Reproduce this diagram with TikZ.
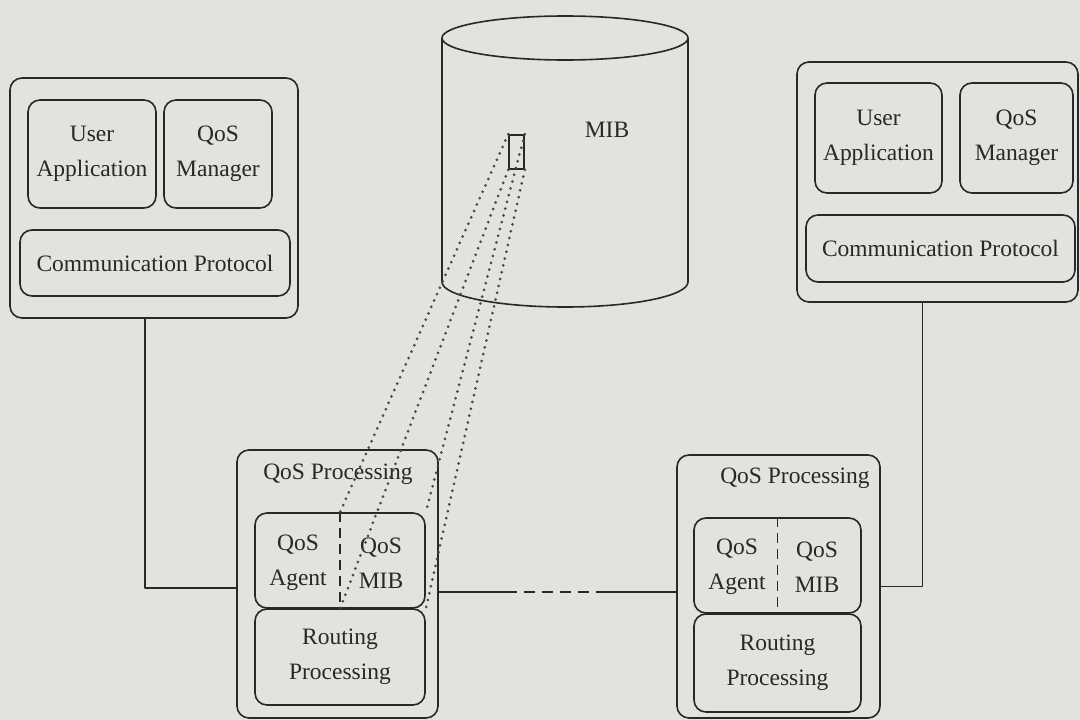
\documentclass[tikz,border=0pt]{standalone}
\usepackage{fontspec}
\setmainfont{Liberation Serif}
\usetikzlibrary{calc}
\definecolor{paper}{RGB}{226,226,223}
\definecolor{ink}{RGB}{40,40,40}

\begin{document}
\begin{tikzpicture}[
    x=1pt,
    y=-1pt,
    line join=round,
    every node/.style={font=\fontsize{23.5}{35}\selectfont, text=ink, align=center},
    caja/.style={draw=ink, line width=1.6pt, rounded corners=12pt, inner sep=0pt},
    enlace/.style={draw=ink, line width=1.6pt},
    punteada/.style={draw=ink!85, line width=3pt, line cap=round, dash pattern=on 0pt off 7pt},
    division/.style={draw=ink, line width=1.6pt, dash pattern=on 10pt off 6pt}
]

\fill[paper] (0,0) rectangle (1080,720);
\useasboundingbox (0,0) rectangle (1080,720);

% hosts
\node[caja, minimum width=288, minimum height=240] (hostI) at (154,198) {};
\node[caja, minimum width=128, minimum height=108] (usuarioI) at (92,154) {User\\Application};
\node[caja, minimum width=108, minimum height=108] (gestorI) at (218,154) {QoS\\Manager};
\node[caja, minimum width=270, minimum height=66] (protI) at (155,263) {Communication Protocol};

\node[caja, minimum width=281, minimum height=240] (hostD) at (937.5,182) {};
\node[caja, minimum width=127, minimum height=110] (usuarioD) at (878.5,138) {User\\Application};
\node[caja, minimum width=113, minimum height=110] (gestorD) at (1016.5,138) {QoS\\Manager};
\node[caja, minimum width=269, minimum height=67] (protD) at (940.5,248.5) {Communication Protocol};

% MIB
\draw[enlace] (565,38) ellipse [x radius=123, y radius=22];
\draw[enlace] (442,38) -- (442,282)
    arc[start angle=180, end angle=0, x radius=123, y radius=25] -- (688,38);
\node (mib) at (607,130) {MIB};
\node[caja, rounded corners=0pt, minimum width=15, minimum height=34] (celda) at (516.5,152) {};

% routers
\node[caja, minimum width=201, minimum height=268] (routI) at (337.5,584) {};
\node (procI) at (338,474) {QoS Processing};
\node[caja, minimum width=170, minimum height=95] (agenteI) at (340,560.5) {};
\draw[division] (agenteI.north) -- (agenteI.south);
\node at (298,563) {QoS\\Agent};
\node at (381,563) {QoS\\MIB};
\node[caja, minimum width=170, minimum height=96] (rutaI) at (340,657) {Routing\\Processing};

\node[caja, minimum width=203, minimum height=263] (routD) at (778.5,586.5) {};
\node (procD) at (795,478) {QoS Processing};
\node[caja, minimum width=167, minimum height=95] (agenteD) at (777.5,565.5) {};
\draw[division] (agenteD.north) -- (agenteD.south);
\node at (737,567) {QoS\\Agent};
\node at (817,567) {QoS\\MIB};
\node[caja, minimum width=167, minimum height=98] (rutaD) at (777.5,663) {Routing\\Processing};

% enlaces
\draw[enlace] ($(hostI.south)+(-9,0)$) |- ($(routI.west)+(0,4)$);
\draw[enlace] ($(hostD.south)+(-15,0)$) |- (routD.east);

\draw[enlace] ($(routI.east)+(0,8)$) -- ++(67,0) coordinate (medioA);
\draw[enlace, dash pattern=on 11pt off 7pt] (medioA) -- ++(100,0) coordinate (medioB);
\draw[enlace] (medioB) -- (medioB -| routD.west);

% proyeccion de la celda
\draw[punteada] (celda.north west) -- (agenteI.north);
\draw[punteada] (celda.south west) -- (agenteI.south);
\draw[punteada] (celda.north east) -- (agenteI.north east);
\draw[punteada] (celda.south east) -- (agenteI.south east);

\end{tikzpicture}
\end{document}
